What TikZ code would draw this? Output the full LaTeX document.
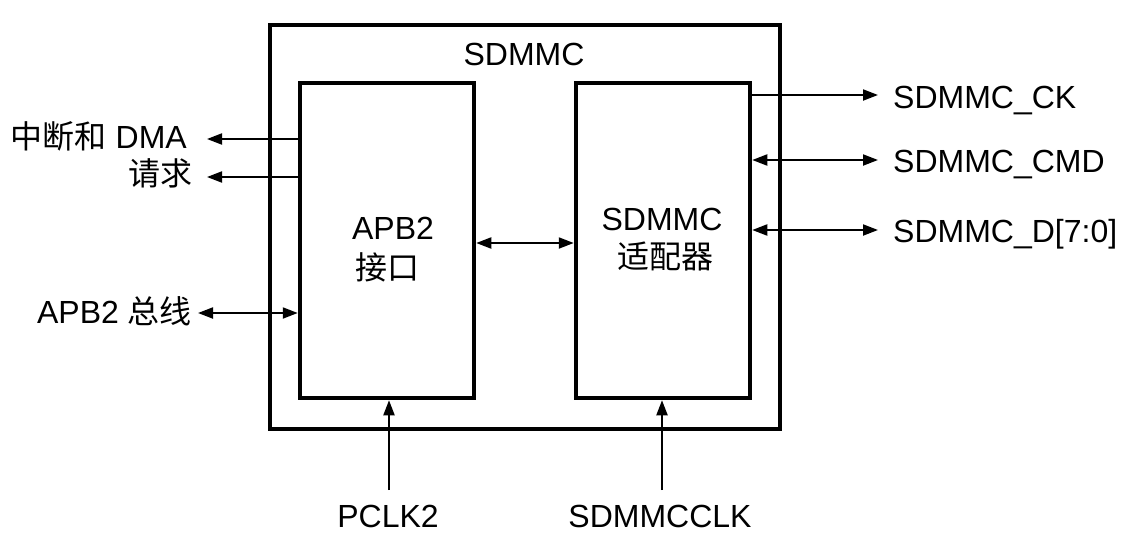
\documentclass[tikz,border=0pt]{standalone}
\usepackage{fontspec}
\setmainfont{Liberation Sans}
\newfontfamily\cjk{Noto Sans CJK SC}
\usetikzlibrary{arrows.meta}
\begin{document}
\begin{tikzpicture}[x=1pt,y=-1pt,
  box/.style={draw,line width=4.5pt,inner sep=0pt,minimum width=174pt,minimum height=315pt},
  outerbox/.style={draw,line width=4.5pt,inner sep=0pt,minimum width=510pt,minimum height=404pt},
  lbl/.style={inner sep=0pt,font=\fontsize{32}{38}\selectfont},
  conn/.style={line width=2pt,-{Triangle[length=15pt,width=11pt]}},
  bconn/.style={line width=2pt,{Triangle[length=15pt,width=11pt]}-{Triangle[length=15pt,width=11pt]}}]
\useasboundingbox (0,0) rectangle (1137,557);
\node[outerbox] (outer) at (525,227) {};
\node[box] (L) at (387,240.5) {};
\node[box] (R) at (663,240.5) {};
% texts
\node[lbl,anchor=base] (title) at (524,65) {SDMMC};
\node[lbl,anchor=base] (la) at (393,239) {APB2};
\node[lbl,anchor=base] (lb) at (387,279) {\cjk 接口};
\node[lbl,anchor=base] (ra) at (662,230) {SDMMC};
\node[lbl,anchor=base] (rb) at (665,268) {\cjk 适配器};
\node[lbl,anchor=base east] (t1) at (187,148) {{\cjk 中断和} DMA};
\node[lbl,anchor=base east] (t2) at (193,185) {\cjk 请求};
\node[lbl,anchor=base east] (t3) at (192,323) {APB2 {\cjk 总线}};
\node[lbl,anchor=base west] (ck) at (893,108) {SDMMC\_CK};
\node[lbl,anchor=base west] (cmd) at (893,172) {SDMMC\_CMD};
\node[lbl,anchor=base west] (dat) at (893,242) {SDMMC\_D[7:0]};
\node[lbl,anchor=base] (pclk) at (388,527) {PCLK2};
\node[lbl,anchor=base] (sclk) at (660,527) {SDMMCCLK};
% coordinates
\coordinate (e1) at (207,139);
\coordinate (e2) at (207,177);
\coordinate (e3) at (198,313);
\coordinate (c1) at (878,95);
\coordinate (c2) at (878,160);
\coordinate (c3) at (878,230);
\coordinate (p1) at (389,490);
\coordinate (p2) at (662,490);
\coordinate (m) at (0,243);
% connectors
\draw[conn] (L.west |- e1) -- (e1);
\draw[conn] (L.west |- e2) -- (e2);
\draw[bconn] (e3) -- (L.west |- e3);
\draw[bconn] (L.east |- m) -- (R.west |- m);
\draw[conn] (R.east |- c1) -- (c1);
\draw[bconn] (R.east |- c2) -- (c2);
\draw[bconn] (R.east |- c3) -- (c3);
\draw[conn] (p1) -- (p1 |- L.south);
\draw[conn] (p2) -- (p2 |- R.south);
\end{tikzpicture}
\end{document}
